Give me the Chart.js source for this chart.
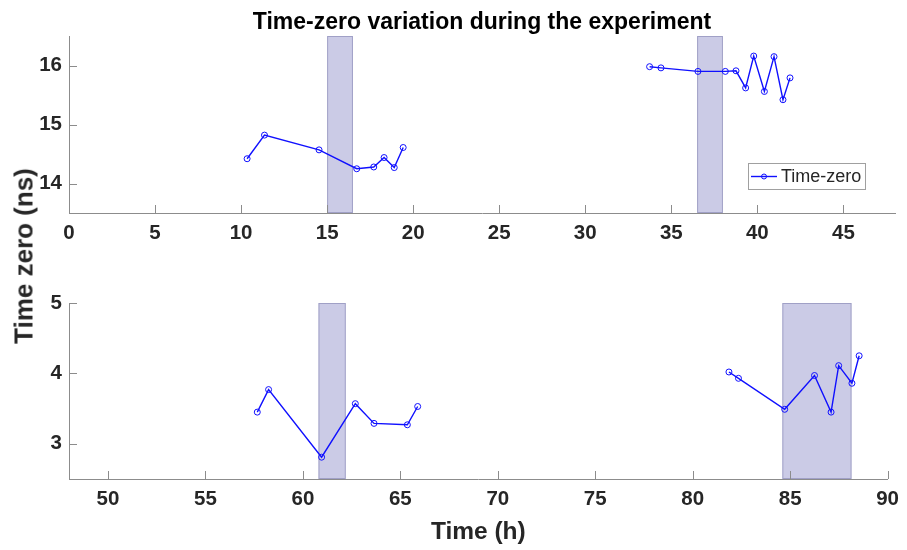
<!DOCTYPE html>
<html>
<head>
<meta charset="utf-8">
<script src="https://cdn.jsdelivr.net/npm/chart.js@4.4.1/dist/chart.umd.min.js"></script>
<style>
    body { margin: 0; background: #fff; }
    #wrap { position: relative; width: 907px; height: 550px; overflow: hidden; font-family: Arial, 'Liberation Sans', Helvetica, sans-serif; }
    #topChart { position: absolute; left: 0; top: 0; }
    #bottomChart { position: absolute; left: 0; top: 250px; }
    #title { position: absolute; left: 482px; top: 21px; transform: translate(-50%, -50%); font-size: 23px; font-weight: bold; color: #000; white-space: nowrap; }
    #ylabel { position: absolute; left: 24px; top: 256px; transform: translate(-50%, -50%) rotate(-90deg); font-size: 26px; font-weight: bold; color: #262626; white-space: nowrap; }
</style>
</head>
<body>
<div id="wrap">
    <canvas id="topChart" width="907" height="250"></canvas>
    <canvas id="bottomChart" width="907" height="300"></canvas>
    <div id="title">Time-zero variation during the experiment</div>
    <div id="ylabel">Time zero (ns)</div>
</div>
<script>
// Datos
const topTimesA = [10.35, 11.36, 14.53, 16.72, 17.71, 18.31, 18.90, 19.42];
const topValuesA = [14.42, 14.82, 14.57, 14.25, 14.28, 14.44, 14.27, 14.61];
const topTimesB = [33.74, 34.40, 36.55, 38.14, 38.76, 39.32, 39.79, 40.41, 40.97, 41.49, 41.90];
const topValuesB = [15.98, 15.96, 15.90, 15.90, 15.91, 15.62, 16.16, 15.56, 16.15, 15.42, 15.79];

const bottomTimesA = [57.66, 58.24, 60.96, 62.69, 63.65, 65.36, 65.89];
const bottomValuesA = [3.45, 3.77, 2.81, 3.57, 3.29, 3.27, 3.53];
const bottomTimesB = [81.86, 82.35, 84.72, 86.25, 87.10, 87.49, 88.17, 88.54];
const bottomValuesB = [4.02, 3.93, 3.49, 3.97, 3.45, 4.11, 3.86, 4.25];

// Intervalos sombreados [inicio, fin] en horas
const topBands = [[15, 16.5], [36.5, 38]];
const bottomBands = [[60.8, 62.2], [84.6, 88.15]];

// Ticks de los ejes
const topXTicks = [0, 5, 10, 15, 20, 25, 30, 35, 40, 45];
const topYTicks = [14, 15, 16];
const bottomXTicks = [50, 55, 60, 65, 70, 75, 80, 85, 90];
const bottomYTicks = [3, 4, 5];

const seriesLabel = 'Time-zero';

const FONT = "Arial, 'Liberation Sans', Helvetica, sans-serif";
const AXIS_COLOR = '#8c8c8c';
const TEXT_COLOR = '#262626';
const LINE_COLOR = '#1010ff';
const BAND_COLOR = 'rgba(160, 160, 210, 0.55)';

function toPoints(xs, ys) {
    return xs.map((x, i) => ({ x: x, y: ys[i] }));
}

function makeDataset(xs, ys) {
    return {
        label: seriesLabel,
        data: toPoints(xs, ys),
        showLine: true,
        borderColor: LINE_COLOR,
        borderWidth: 1.4,
        pointRadius: 3,
        pointBorderWidth: 1,
        pointBorderColor: LINE_COLOR,
        pointBackgroundColor: 'rgba(0,0,0,0)',
        tension: 0,
    };
}

/**
 * Bandas sombreadas detrás de las líneas
 */
const bandsPlugin = {
    id: 'bands',
    beforeDatasetsDraw(chart, args, opts) {
        const { ctx } = chart;
        const x = chart.scales.x;
        const y = chart.scales.y;
        const yTop = y.getPixelForValue(y.max);
        const yBottom = y.getPixelForValue(y.min);
        ctx.save();
        (opts.bands || []).forEach(b => {
            const x0 = x.getPixelForValue(b[0]);
            const x1 = x.getPixelForValue(b[1]);
            ctx.fillStyle = BAND_COLOR;
            ctx.fillRect(x0, yTop, x1 - x0, yBottom - yTop);
            ctx.strokeStyle = 'rgba(150,150,190,0.8)';
            ctx.lineWidth = 1;
            ctx.strokeRect(x0 + 0.5, yTop + 0.5, x1 - x0 - 1, yBottom - yTop - 1);
        });
        ctx.restore();
    },
};

/**
 * Marcas de ticks hacia dentro (estilo MATLAB)
 */
const innerTicksPlugin = {
    id: 'innerTicks',
    afterDatasetsDraw(chart) {
        const { ctx, chartArea } = chart;
        const x = chart.scales.x;
        const y = chart.scales.y;
        ctx.save();
        ctx.strokeStyle = AXIS_COLOR;
        ctx.lineWidth = 1;
        ctx.beginPath();
        x.ticks.forEach(t => {
            const px = Math.round(x.getPixelForValue(t.value)) + 0.5;
            ctx.moveTo(px, chartArea.bottom);
            ctx.lineTo(px, chartArea.bottom - 8);
        });
        y.ticks.forEach(t => {
            const py = Math.round(y.getPixelForValue(t.value)) + 0.5;
            ctx.moveTo(chartArea.left, py);
            ctx.lineTo(chartArea.left + 8, py);
        });
        ctx.stroke();
        ctx.restore();
    },
};

/**
 * Leyenda dentro del área del gráfico
 */
const boxLegendPlugin = {
    id: 'boxLegend',
    afterDraw(chart, args, opts) {
        if (!opts.show) return;
        const { ctx, chartArea } = chart;
        const w = 117, h = 26;
        const left = chartArea.right - 147;
        const top = chartArea.bottom - 50;
        ctx.save();
        ctx.fillStyle = '#fff';
        ctx.fillRect(left, top, w, h);
        ctx.strokeStyle = '#a0a0a0';
        ctx.lineWidth = 1;
        ctx.strokeRect(left + 0.5, top + 0.5, w, h);
        const cy = top + h / 2 + 0.5;
        ctx.strokeStyle = LINE_COLOR;
        ctx.lineWidth = 1.4;
        ctx.beginPath();
        ctx.moveTo(left + 3, cy);
        ctx.lineTo(left + 29, cy);
        ctx.stroke();
        ctx.lineWidth = 1;
        ctx.beginPath();
        ctx.arc(left + 16, cy, 2.5, 0, Math.PI * 2);
        ctx.stroke();
        ctx.fillStyle = TEXT_COLOR;
        ctx.font = '18px ' + FONT;
        ctx.textBaseline = 'middle';
        ctx.textAlign = 'left';
        ctx.fillText(seriesLabel, left + 33, cy + 1);
        ctx.restore();
    },
};

function makeChart(canvasId, cfg) {
    const ctx = document.getElementById(canvasId);
    return new Chart(ctx, {
        type: 'scatter',
        data: { datasets: cfg.datasets },
        plugins: [bandsPlugin, innerTicksPlugin, boxLegendPlugin],
        options: {
            responsive: false,
            animation: false,
            devicePixelRatio: 1,
            layout: { padding: { top: cfg.padTop, right: 12, left: 0, bottom: 0 } },
            plugins: {
                legend: { display: false },
                tooltip: { enabled: false },
                bands: { bands: cfg.bands },
                boxLegend: { show: cfg.legend },
            },
            scales: {
                x: {
                    type: 'linear',
                    min: cfg.xMin,
                    max: cfg.xMax,
                    afterBuildTicks: s => { s.ticks = cfg.xTicks.map(v => ({ value: v })); },
                    afterFit: s => { s.height = cfg.xHeight; },
                    border: { display: true, color: AXIS_COLOR, width: 1 },
                    grid: { display: true, drawOnChartArea: false, drawTicks: false },
                    ticks: {
                        padding: 8,
                        color: TEXT_COLOR,
                        font: { family: FONT, size: 20.5, weight: 'bold' },
                        maxRotation: 0,
                    },
                    title: cfg.xTitle ? {
                        display: true,
                        text: cfg.xTitle,
                        color: TEXT_COLOR,
                        font: { family: FONT, size: 24.5, weight: 'bold' },
                        padding: { top: 0, bottom: 3 },
                    } : { display: false },
                },
                y: {
                    min: cfg.yMin,
                    max: cfg.yMax,
                    afterBuildTicks: s => { s.ticks = cfg.yTicks.map(v => ({ value: v })); },
                    afterFit: s => { s.width = 69; },
                    border: { display: true, color: AXIS_COLOR, width: 1 },
                    grid: { display: true, drawOnChartArea: false, drawTicks: false },
                    ticks: {
                        padding: 7,
                        color: TEXT_COLOR,
                        font: { family: FONT, size: 20.5, weight: 'bold' },
                    },
                },
            },
        },
    });
}

document.addEventListener('DOMContentLoaded', () => {
    makeChart('topChart', {
        datasets: [makeDataset(topTimesA, topValuesA), makeDataset(topTimesB, topValuesB)],
        bands: topBands,
        legend: true,
        padTop: 36,
        xHeight: 37,
        xMin: 0, xMax: 48,
        yMin: 13.5, yMax: 16.5,
        xTicks: topXTicks,
        yTicks: topYTicks,
    });
    makeChart('bottomChart', {
        datasets: [makeDataset(bottomTimesA, bottomValuesA), makeDataset(bottomTimesB, bottomValuesB)],
        bands: bottomBands,
        legend: false,
        padTop: 53,
        xHeight: 71,
        xMin: 48, xMax: 90,
        yMin: 2.5, yMax: 5,
        xTicks: bottomXTicks,
        yTicks: bottomYTicks,
        xTitle: 'Time (h)',
    });
});
</script>
</body>
</html>
